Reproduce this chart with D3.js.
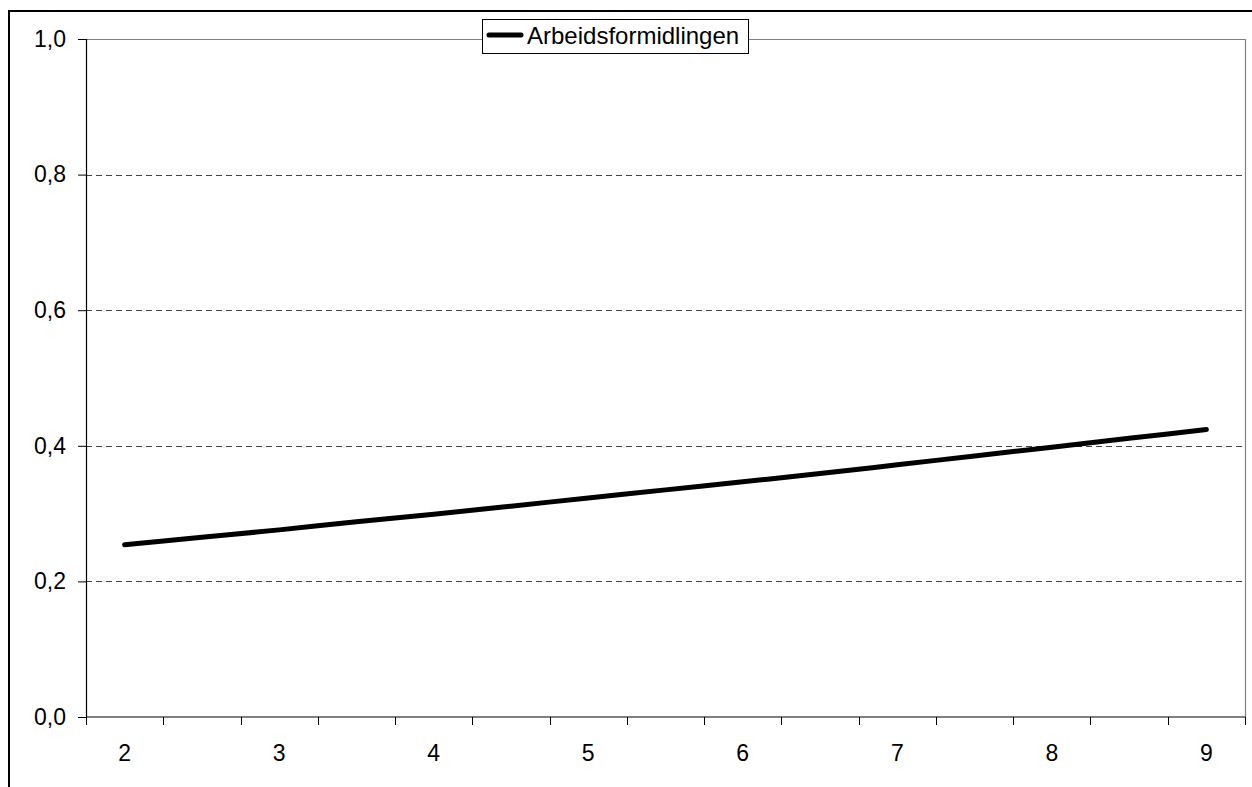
<!DOCTYPE html>
<html>
<head>
<meta charset="utf-8">
<script src="https://cdn.jsdelivr.net/npm/d3@7"></script>
<style>
  html, body { margin: 0; padding: 0; background: #fff; }
  svg { display: block; font-family: "Liberation Sans", Arial, sans-serif; }
</style>
</head>
<body>
<svg id="chart" width="1252" height="787"></svg>
<script>
// Category positions (half-step), only whole numbers carry a label
const categories = [2, 2.5, 3, 3.5, 4, 4.5, 5, 5.5, 6, 6.5, 7, 7.5, 8, 8.5, 9];
const seriesName = "Arbeidsformidlingen";
const seriesValues = [0.254, 0.265, 0.276, 0.288, 0.299, 0.311, 0.323, 0.335,
                      0.347, 0.359, 0.372, 0.385, 0.398, 0.411, 0.424];
const yTicks = [0, 0.2, 0.4, 0.6, 0.8, 1.0];
const xLabels = [2, 3, 4, 5, 6, 7, 8, 9];

const FONT = "Liberation Sans, Arial, sans-serif";
const FS = 23;

const svg = d3.select("#chart");
const plot = { left: 86, top: 39, right: 1245, bottom: 717 };

// Outer chart frame
svg.append("rect")
  .attr("x", 9).attr("y", 11)
  .attr("width", 1400).attr("height", 1000)
  .attr("fill", "none").attr("stroke", "#000").attr("stroke-width", 2);

const x = d3.scaleBand()
  .domain(categories)
  .range([plot.left, plot.right])
  .paddingInner(0).paddingOuter(0);

const y = d3.scaleLinear().domain([0, 1]).range([plot.bottom, plot.top]);

const fmt = d => d3.format(".1f")(d).replace(".", ",");

// Dashed gridlines
svg.append("g")
  .selectAll("line")
  .data(yTicks.filter(d => d > 0 && d < 1))
  .join("line")
  .attr("x1", plot.left).attr("x2", plot.right)
  .attr("y1", d => Math.round(y(d)) + 0.5).attr("y2", d => Math.round(y(d)) + 0.5)
  .attr("stroke", "#444").attr("stroke-width", 1)
  .attr("stroke-dasharray", "6,4");

// Plot area border (top/right in gray)
svg.append("path")
  .attr("d", `M${plot.left},${plot.top + 0.5}H${plot.right + 0.5}V${plot.bottom}`)
  .attr("fill", "none").attr("stroke", "#808080").attr("stroke-width", 1.2);

// Y axis
const yAxis = d3.axisLeft(y).tickValues(yTicks).tickFormat(fmt)
  .tickSize(8).tickPadding(12);
const gy = svg.append("g")
  .attr("transform", `translate(${plot.left},0)`)
  .call(yAxis)
  .attr("font-size", FS).attr("font-family", FONT);
gy.select(".domain").attr("stroke", "#000").attr("stroke-width", 1.2);
gy.selectAll(".tick line").attr("stroke", "#000");
gy.selectAll("text").attr("fill", "#000");

// X axis: tick marks on band boundaries, labels in band centers
const gx = svg.append("g").attr("transform", `translate(0,${plot.bottom})`)
  .attr("font-size", FS).attr("font-family", FONT);
gx.append("line")
  .attr("x1", plot.left).attr("x2", plot.right + 0.5)
  .attr("stroke", "#000").attr("stroke-width", 1.2);
const boundaries = categories.map(c => x(c)).concat([x(categories[categories.length - 1]) + x.bandwidth()]);
gx.selectAll("line.tick")
  .data(boundaries)
  .join("line")
  .attr("class", "tick")
  .attr("x1", d => Math.round(d) + 0.5).attr("x2", d => Math.round(d) + 0.5)
  .attr("y1", 0).attr("y2", 8)
  .attr("stroke", "#000");
gx.selectAll("text")
  .data(xLabels)
  .join("text")
  .attr("x", d => x(d) + x.bandwidth() / 2)
  .attr("y", 44)
  .attr("text-anchor", "middle")
  .text(d => d);

// Series line
const line = d3.line()
  .x((d, i) => x(categories[i]) + x.bandwidth() / 2)
  .y(d => y(d))
  .curve(d3.curveMonotoneX);
svg.append("path")
  .datum(seriesValues)
  .attr("d", line)
  .attr("fill", "none").attr("stroke", "#000")
  .attr("stroke-width", 5).attr("stroke-linecap", "round").attr("stroke-linejoin", "round");

// Legend
const lg = svg.append("g");
lg.append("rect")
  .attr("x", 482.5).attr("y", 19.5).attr("width", 266).attr("height", 34)
  .attr("fill", "#fff").attr("stroke", "#000").attr("stroke-width", 1);
lg.append("line")
  .attr("x1", 489).attr("x2", 521).attr("y1", 35).attr("y2", 35)
  .attr("stroke", "#000").attr("stroke-width", 5).attr("stroke-linecap", "round");
lg.append("text")
  .attr("x", 527).attr("y", 44)
  .attr("font-size", 24).attr("font-family", FONT)
  .text(seriesName);
</script>
</body>
</html>
